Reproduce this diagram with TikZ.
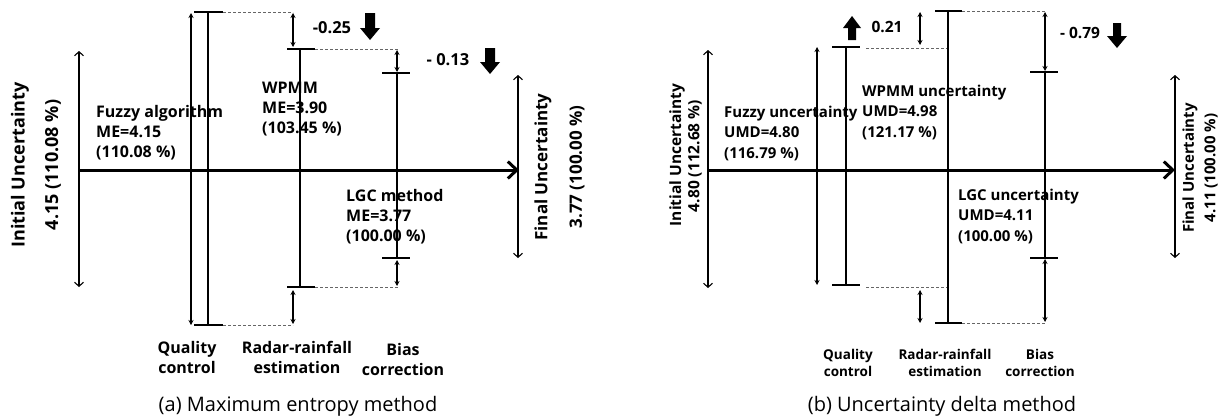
\documentclass[tikz,border=0pt]{standalone}
\usepackage{fontspec}
\setmainfont{Open Sans}
\usetikzlibrary{arrows.meta}
\newcommand\blkarrow[5]{% x, tail y, tip y, shaft half, head half
  \pgfmathsetmacro\bdir{((#3)>(#2))?1:-1}
  \fill (#1-#4,#2) -- (#1+#4,#2) -- (#1+#4,#3-\bdir*12) -- (#1+#5,#3-\bdir*12) -- (#1,#3) -- (#1-#5,#3-\bdir*12) -- (#1-#4,#3-\bdir*12) -- cycle;}
\begin{document}
\begin{tikzpicture}[x=1pt,y=-1pt,
  thickbar/.style={line width=2.8pt},
  thinbar/.style={line width=1.5pt},
  axisline/.style={line width=3pt,-{Straight Barb[length=9pt,width=17pt]}},
  bigdbl/.style={line width=1.1pt,{Straight Barb[length=4pt,width=9pt]}-{Straight Barb[length=4pt,width=9pt]}},
  smalldbl/.style={line width=1.2pt,{Stealth[length=5pt,width=5pt]}-{Stealth[length=5pt,width=5pt]}},
  dashline/.style={gray!80!black,line width=0.9pt,dash pattern=on 3pt off 2pt},
  txta/.style={font=\bfseries\fontsize{16}{20}\selectfont,align=left,anchor=base west,inner sep=0pt},
  txtb/.style={font=\bfseries\fontsize{15}{20.5}\selectfont,align=left,anchor=base west,inner sep=0pt},
  stepa/.style={font=\bfseries\fontsize{16}{20}\selectfont,align=center,anchor=base,inner sep=0pt},
  stepb/.style={font=\bfseries\fontsize{13.5}{17}\selectfont,align=center,anchor=base,inner sep=0pt},
  rota/.style={font=\bfseries\fontsize{18}{20}\selectfont,rotate=90,inner sep=0pt},
  rotb/.style={font=\bfseries\fontsize{15.5}{18}\selectfont,rotate=90,inner sep=0pt},
  capt/.style={font=\fontsize{20}{24}\selectfont,anchor=base,inner sep=0pt},
  vala/.style={font=\bfseries\fontsize{16.5}{20}\selectfont,anchor=base,inner sep=0pt},
  valb/.style={font=\bfseries\fontsize{15.5}{20}\selectfont,anchor=base,inner sep=0pt}]
\useasboundingbox (0,0) rectangle (1223,416);

% ================= (a) =================
\coordinate (aAx0) at (79,170); \coordinate (aAx1) at (519,170);
\coordinate (aI0) at (79,51); \coordinate (aI1) at (79,287);
\coordinate (aQa0) at (191,13); \coordinate (aQa1) at (191,325);
\coordinate (aQ0) at (208,12); \coordinate (aQ1) at (208,325);
\coordinate (aW0) at (300,49); \coordinate (aW1) at (300,287);
\coordinate (aL0) at (397,73); \coordinate (aL1) at (397,258);
\coordinate (aF0) at (518,75); \coordinate (aF1) at (518,258);

\draw[bigdbl] (aI0) -- (aI1);
\draw[smalldbl] (aQa0) -- (aQa1);
\draw[thickbar] (aQ0) -- (aQ1);
\draw[thickbar] ([xshift=-14pt]aQ0) -- ([xshift=15pt]aQ0);
\draw[thickbar] ([xshift=-14pt]aQ1) -- ([xshift=15pt]aQ1);
\draw[dashline] ([xshift=15pt]aQ0) -- (293,12);
\draw[dashline] ([xshift=15pt]aQ1) -- (293,325);
\draw[smalldbl] (293,13) -- (293,47);
\draw[smalldbl] (293,290) -- (293,324);
\draw[thickbar] (aW0) -- (aW1);
\draw[thickbar] ([xshift=-13pt]aW0) -- ([xshift=15pt]aW0);
\draw[thickbar] ([xshift=-13pt]aW1) -- ([xshift=15pt]aW1);
\draw[dashline] ([xshift=15pt]aW0) -- (398,49);
\draw[dashline] ([xshift=15pt]aW1) -- (398,287);
\draw[smalldbl] (397,50) -- (397,72);
\draw[smalldbl] (397,260) -- (397,286);
\draw[thickbar] (aL0) -- (aL1);
\draw[thickbar] ([xshift=-15pt]aL0) -- ([xshift=13pt]aL0);
\draw[thickbar] ([xshift=-15pt]aL1) -- ([xshift=13pt]aL1);
\draw[bigdbl] (aF0) -- (aF1);
\draw[axisline] (aAx0) -- (aAx1);

\blkarrow{370}{13}{40}{5}{10}
\blkarrow{490}{48}{74}{5}{10}
\node[vala] (a025) at (332,33) {-0.25};
\node[vala] (a013) at (448,65) {- 0.13};

\node[txta] (aFz) at (96,157) {Fuzzy algorithm\\ME=4.15\\(110.08 \%)};
\node[txta] (aWp) at (262,133) {WPMM\\ME=3.90\\(103.45 \%)};
\node[txta] (aLg) at (346,241) {LGC method\\ME=3.77\\(100.00 \%)};

\node[rota] (aIn1) at (20,165) {Initial Uncertainty};
\node[rota] (aIn2) at (53,165) {4.15 (110.08 \%)};
\node[rota,font=\bfseries\fontsize{17}{20}\selectfont] (aFi1) at (543,167) {Final Uncertainty};
\node[rota,font=\bfseries\fontsize{17}{20}\selectfont] (aFi2) at (577,167) {3.77 (100.00 \%)};

\node[stepa] (aS1) at (187,373) {Quality\\control};
\node[stepa] (aS2) at (297,373) {Radar-rainfall\\estimation};
\node[stepa] (aS3) at (403,375) {Bias\\correction};
\node[capt] (aCap) at (298,411) {(a) Maximum entropy method};

% ================= (b) =================
\coordinate (bAx0) at (708,170); \coordinate (bAx1) at (1175,170);
\coordinate (bI0) at (708,50); \coordinate (bI1) at (708,288);
\coordinate (bQa0) at (817,47); \coordinate (bQa1) at (817,285);
\coordinate (bQ0) at (846,47); \coordinate (bQ1) at (846,285);
\coordinate (bW0) at (948,11); \coordinate (bW1) at (948,323);
\coordinate (bL0) at (1045,72); \coordinate (bL1) at (1045,258);
\coordinate (bF0) at (1175,75); \coordinate (bF1) at (1175,258);

\draw[bigdbl] (bI0) -- (bI1);
\draw[smalldbl] (bQa0) -- (bQa1);
\draw[thinbar] (bQ0) -- (bQ1);
\draw[thinbar] ([xshift=-14pt]bQ0) -- ([xshift=14pt]bQ0);
\draw[thinbar] ([xshift=-14pt]bQ1) -- ([xshift=14pt]bQ1);
\draw[dashline] (866,48) -- (947,48);
\draw[dashline] (866,287) -- (947,287);
\draw[smalldbl] (920,12) -- (920,45);
\draw[smalldbl] (920,290) -- (920,323);
\draw[thinbar] (bW0) -- (bW1);
\draw[thinbar] ([xshift=-13pt]bW0) -- ([xshift=14pt]bW0);
\draw[thinbar] ([xshift=-13pt]bW1) -- ([xshift=14pt]bW1);
\draw[dashline] ([xshift=14pt]bW0) -- (1045,11);
\draw[dashline] ([xshift=14pt]bW1) -- (1045,323);
\draw[smalldbl] (1045,12) -- (1045,71);
\draw[smalldbl] (1045,259) -- (1045,322);
\draw[thinbar] (bL0) -- (bL1);
\draw[thinbar] ([xshift=-15pt]bL0) -- ([xshift=13pt]bL0);
\draw[thinbar] ([xshift=-15pt]bL1) -- ([xshift=13pt]bL1);
\draw[bigdbl] (bF0) -- (bF1);
\draw[axisline] (bAx0) -- (bAx1);

\blkarrow{852}{40}{16}{4}{9}
\blkarrow{1117}{23}{48}{4}{10}
\node[valb] (b021) at (887,32) {0.21};
\node[valb] (b079) at (1080,38) {- 0.79};

\node[txtb] (bFz) at (724,158) {Fuzzy uncertainty\\UMD=4.80\\(116.79 \%)};
\node[txtb] (bWp) at (862,137) {WPMM uncertainty\\UMD=4.98\\(121.17 \%)};
\node[txtb] (bLg) at (958,241) {LGC uncertainty\\UMD=4.11\\(100.00 \%)};

\node[rotb] (bIn1) at (677,155) {Initial Uncertainty};
\node[rotb] (bIn2) at (695,156) {4.80 (112.68 \%)};
\node[rotb,font=\bfseries\fontsize{15}{18}\selectfont] (bFi1) at (1190,168) {Final Uncertainty};
\node[rotb,font=\bfseries\fontsize{15}{18}\selectfont] (bFi2) at (1211,168) {4.11 (100.00 \%)};

\node[stepb] (bS1) at (848,376) {Quality\\control};
\node[stepb] (bS2) at (945,376) {Radar-rainfall\\estimation};
\node[stepb] (bS3) at (1040,376) {Bias\\correction};
\node[capt] (bCap) at (942,411) {(b) Uncertainty delta method};
\end{tikzpicture}
\end{document}
